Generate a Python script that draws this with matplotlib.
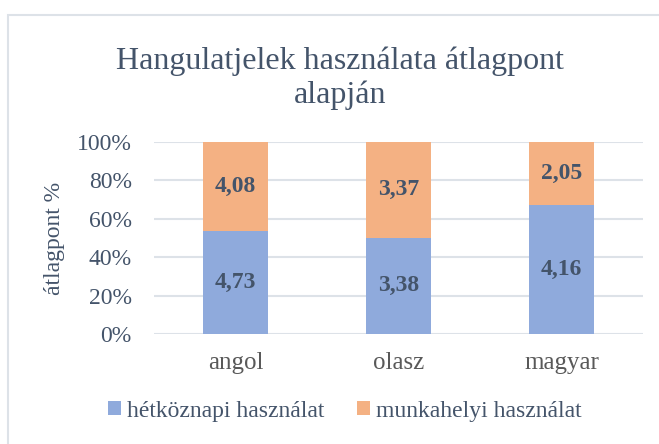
import matplotlib.pyplot as plt
import numpy as np
from matplotlib.patches import Rectangle

# adatok
categories = ['angol', 'olasz', 'magyar']
hetkoznapi = [4.73, 3.38, 4.16]
munkahelyi = [4.08, 3.37, 2.05]
labels_h = ['4,73', '3,38', '4,16']
labels_m = ['4,08', '3,37', '2,05']
series_names = ['hétköznapi használat', 'munkahelyi használat']

plt.rcParams['font.family'] = ['Liberation Serif', 'DejaVu Serif']
txt = '#44546A'
blue = '#8FAADC'
orange = '#F4B183'
grid = '#DDE2E8'

fig = plt.figure(figsize=(6.59, 4.44), dpi=100)
fig.patches.append(Rectangle((8/659, -0.1), 1.2, 1 - 15/444 + 0.1, transform=fig.transFigure,
                             fill=False, edgecolor=grid, linewidth=1.5))

ax = fig.add_axes([154/659, 1 - 334/444, 489/659, 192/444])
h = np.array(hetkoznapi)
m = np.array(munkahelyi)
tot = h + m
ph = h / tot
pm = m / tot
x = np.arange(len(categories))
ax.bar(x, ph, width=0.4, color=blue, label=series_names[0], zorder=3)
ax.bar(x, pm, width=0.4, bottom=ph, color=orange, label=series_names[1], zorder=3)
for i in range(len(x)):
    ax.text(x[i], ph[i] / 2, labels_h[i], ha='center', va='center', fontsize=17,
            fontweight='bold', color=txt, zorder=4)
    ax.text(x[i], ph[i] + pm[i] / 2, labels_m[i], ha='center', va='center', fontsize=17,
            fontweight='bold', color=txt, zorder=4)

ax.set_xlim(-0.5, 2.5)
ax.set_ylim(0, 1)
ax.set_yticks(np.linspace(0, 1, 6))
ax.set_yticklabels(['0%', '20%', '40%', '60%', '80%', '100%'], fontsize=17, color=txt)
ax.set_xticks(x)
ax.set_xticklabels(categories, fontsize=18, color='#595959')
ax.tick_params(axis='y', length=0, pad=16)
ax.tick_params(axis='x', length=0, pad=13)
for s in ax.spines.values():
    s.set_visible(False)
ax.grid(axis='y', color=grid, linewidth=1.5, zorder=0)
ax.set_ylabel('átlagpont %', fontsize=17, color=txt)
ax.yaxis.set_label_coords(-0.182, 0.5)

fig.text(340/659, 1 - 78/444, 'Hangulatjelek használata átlagpont\nalapján', ha='center', va='center',
         fontsize=23, color=txt, linespacing=1.2)
fig.legend(loc='center', bbox_to_anchor=(345/659, 1 - 411/444), ncol=2, frameon=False,
           fontsize=17, labelcolor=txt, handlelength=0.55, handleheight=0.55,
           handletextpad=0.25, columnspacing=1.4)

fig.savefig('out.png', dpi=100)
